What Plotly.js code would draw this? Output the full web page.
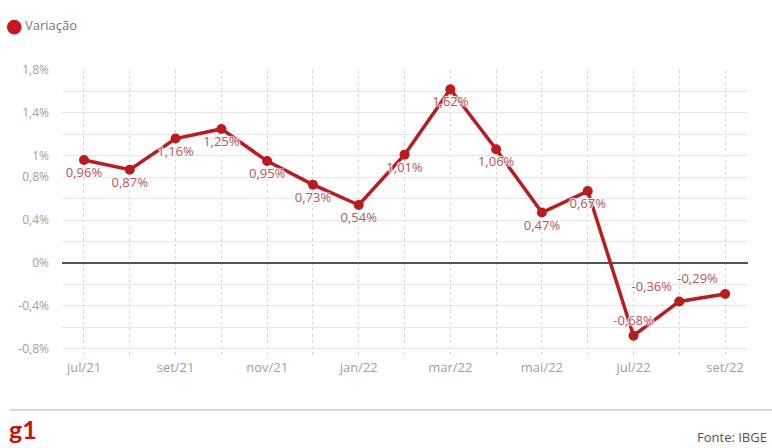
<!DOCTYPE html>
<html><head><meta charset="utf-8">
<script src="https://cdn.plot.ly/plotly-3.0.1.min.js"></script>
<style>html,body{margin:0;padding:0;background:#fff}#c{width:772px;height:448px}</style>
</head><body><div id="c"></div>
<script>
const months = ['jul/21','ago/21','set/21','out/21','nov/21','dez/21','jan/22','fev/22','mar/22','abr/22','mai/22','jun/22','jul/22','ago/22','set/22'];
const monthTickText = ['jul/21','','set/21','','nov/21','','jan/22','','mar/22','','mai/22','','jul/22','','set/22'];
const variacao = [0.96, 0.87, 1.16, 1.25, 0.95, 0.73, 0.54, 1.01, 1.62, 1.06, 0.47, 0.67, -0.68, -0.36, -0.29];
const labelPos = ['bottom center','bottom center','bottom center','bottom center','bottom center','bottom center','bottom center','bottom center','bottom center','bottom center','bottom center','bottom center','top center','top left','top left'];
const yTickVals = [-0.8,-0.6,-0.4,-0.2,0,0.2,0.4,0.6,0.8,1.0,1.2,1.4,1.6,1.8];
const yTickText = ['-0,8%','','-0,4%','','0%','','0,4%','','0,8%','1%','','1,4%','','1,8%'];
const seriesName = 'Variação';
const source = 'Fonte: IBGE';

const idx = months.map((m,i)=>i);
const fmt = v => v.toFixed(2).replace('.', ',') + '%';
const F = 'Open Sans, Noto Sans, sans-serif';
const W = 772, H = 448, ML = 62, MR = 24, MT = 70, MB = 93;
const px = x => (x - ML) / (W - ML - MR);
const py = y => (H - MB - y) / (H - MT - MB);

const traces = [{
  x: idx, y: variacao, mode: 'lines+markers+text', type: 'scatter',
  line: {color: '#b81c1f', width: 3.5},
  marker: {color: '#b81c1f', size: 10},
  text: variacao.map(fmt), textposition: labelPos,
  textfont: {family: F, size: 13, color: '#b5555a', shadow: '1px 1px 1px #fff, -1px -1px 1px #fff, 1px -1px 1px #fff, -1px 1px 1px #fff'},
  showlegend: false, hoverinfo: 'none', cliponaxis: false
}];

const layout = {
  width: W, height: H,
  margin: {l: ML, r: MR, t: MT, b: MB, autoexpand: false},
  paper_bgcolor: '#fff', plot_bgcolor: '#fff',
  font: {family: F, color: '#999'},
  showlegend: false,
  xaxis: {
    range: [-0.48, 14.5], tickvals: idx, ticktext: monthTickText,
    showgrid: true, gridcolor: '#d6d6d6', griddash: 'dot', gridwidth: 1,
    zeroline: false, showline: false, ticks: '',
    tickfont: {family: F, size: 13, color: '#a0a0a0'}, ticklabelstandoff: 3
  },
  yaxis: {
    range: [-0.86, 1.8], tickvals: yTickVals, ticktext: yTickText,
    showgrid: true, gridcolor: '#e6e6e6', gridwidth: 1,
    zeroline: true, zerolinecolor: '#555', zerolinewidth: 2,
    showline: false, ticks: '',
    tickfont: {family: F, size: 12, color: '#a0a0a0'}, ticklabelstandoff: 12
  },
  shapes: [{type: 'line', xref: 'paper', yref: 'paper', x0: px(10), x1: px(772),
    y0: py(410), y1: py(410), line: {color: '#d8d8d8', width: 2}}],
  annotations: [
    {text: '●', xref: 'paper', yref: 'paper',
      x: px(14), y: py(25), xanchor: 'center', yanchor: 'middle', showarrow: false,
      font: {family: 'DejaVu Sans, sans-serif', size: 19, color: '#c8161d'}},
    {text: seriesName, xref: 'paper', yref: 'paper',
      x: px(23), y: py(25), xanchor: 'left', yanchor: 'middle', showarrow: false,
      font: {family: F, size: 13, color: '#777'}},
    {text: '<b>g1</b>', xref: 'paper', yref: 'paper', x: px(7), y: py(429),
      xanchor: 'left', yanchor: 'middle', showarrow: false,
      font: {family: 'Lato, Noto Sans, sans-serif', size: 25, color: '#c4170c'}},
    {text: source, xref: 'paper', yref: 'paper', x: px(769), y: py(437),
      xanchor: 'right', yanchor: 'middle', showarrow: false,
      font: {family: F, size: 13, color: '#555'}}
  ]
};
Plotly.newPlot('c', traces, layout, {displayModeBar: false, staticPlot: true});
</script></body></html>
